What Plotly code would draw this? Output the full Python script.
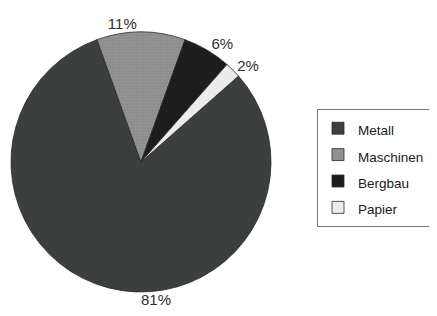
import plotly.graph_objects as go

categories = ["Metall", "Maschinen", "Bergbau", "Papier"]
shares = [81, 11, 6, 2]
slice_colors = ["#3b3f3e", "#8d8d8d", "#1d1d1d", "#ececec"]

W, H = 437, 316
FONT = "Liberation Sans, Arial, sans-serif"

# pie domain in pixels (left, right, top, bottom)
px_l, px_r, px_t, px_b = 2, 264, 24, 284

fig = go.Figure()
fig.add_trace(go.Pie(
    labels=[f"<span style='font-size:13.5px'>{c}\u00a0</span>" for c in categories],
    values=shares,
    sort=False,
    direction="clockwise",
    rotation=48.6,
    texttemplate=["" if i == 0 else "%{percent}" for i in range(len(shares))],
    textposition="outside",
    outsidetextfont=dict(family=FONT, size=15, color="#2e2e2e"),
    marker=dict(
        colors=slice_colors,
        line=dict(color="#2a2a2a", width=0.8),
        pattern=dict(shape=["", ".", "", ""], size=3, solidity=0.25,
                     fgcolor="#a6a6a6", fillmode="overlay"),
    ),
    domain=dict(x=[px_l / W, px_r / W], y=[1 - px_b / H, 1 - px_t / H]),
    hoverinfo="skip",
))

# label for the large slice, placed centred below the pie
fig.add_annotation(
    x=(px_l + px_r) / 2 / W - 0.005, y=1 - 302 / H, xref="paper", yref="paper",
    text=f"{shares[0]}%", showarrow=False,
    font=dict(family=FONT, size=15, color="#2e2e2e"),
)

fig.update_layout(
    width=W, height=H,
    margin=dict(l=0, r=0, t=0, b=0, autoexpand=False),
    paper_bgcolor="white",
    plot_bgcolor="white",
    font=dict(family=FONT, color="#1a1a1a"),
    showlegend=True,
    legend=dict(
        x=309 / W, y=1 - 101 / H, xanchor="left", yanchor="top",
        bordercolor="#7a7a7a", borderwidth=1,
        bgcolor="white",
        font=dict(size=18, color="#1a1a1a"),
    ),
)

fig.write_html("out.html")
